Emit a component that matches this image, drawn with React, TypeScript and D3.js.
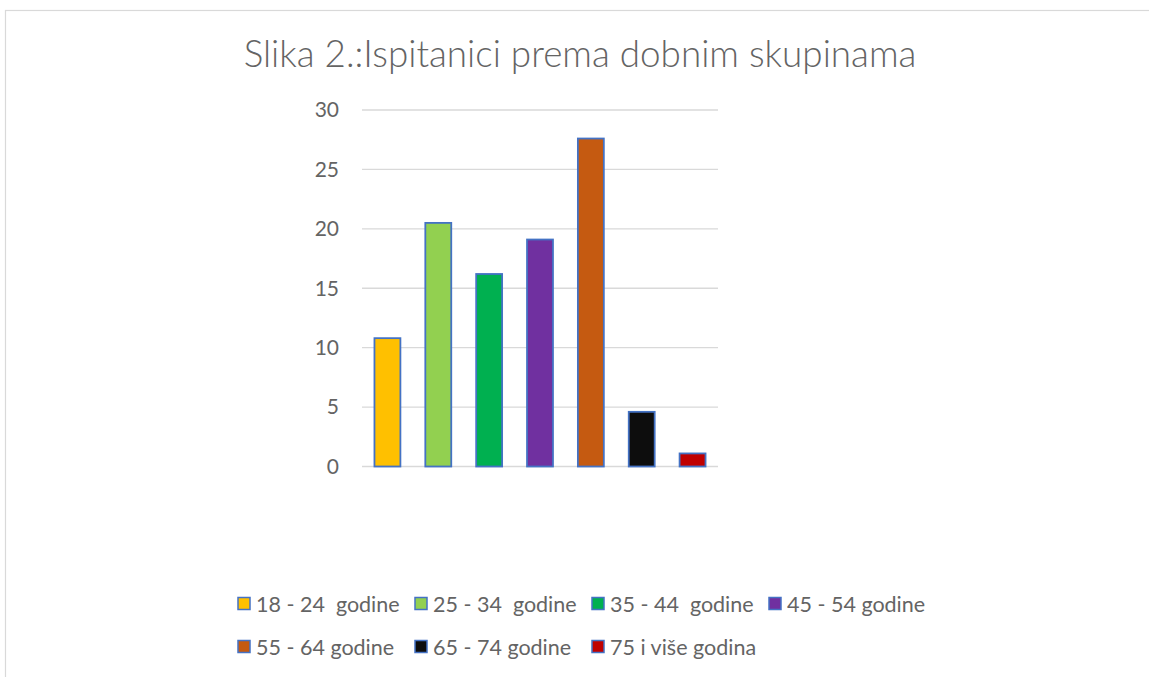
import React, { useEffect, useRef } from 'react';
import * as d3 from 'd3';

const categories = [
  '18 - 24  godine',
  '25 - 34  godine',
  '35 - 44  godine',
  '45 - 54 godine',
  '55 - 64 godine',
  '65 - 74 godine',
  '75 i više godina',
];
const values = [10.8, 20.5, 16.2, 19.1, 27.6, 4.6, 1.1];
const colors = ['#FFC000', '#92D050', '#00B050', '#7030A0', '#C55A11', '#0D0D0D', '#C00000'];
const yTicks = [0, 5, 10, 15, 20, 25, 30];
const title = 'Slika 2.:Ispitanici prema dobnim skupinama';

const FONT = 'Lato, "Open Sans", sans-serif';
const TEXT = '#646464';

const App = () => {
  const svgRef = useRef<SVGSVGElement>(null);

  useEffect(() => {
    const svg = d3.select(svgRef.current);
    svg.selectAll('*').remove();

    const width = 1149;
    const height = 677;

    svg.attr('width', width).attr('height', height);

    // chart frame (right/bottom edges fall outside the picture)
    svg.append('rect')
      .attr('x', 5.5).attr('y', 10.5)
      .attr('width', 1200).attr('height', 700)
      .attr('fill', '#fff')
      .attr('stroke', '#D9D9D9')
      .attr('stroke-width', 1.2);

    // title: sized so it spans roughly 244..917 like the original
    const titleText = svg.append('text')
      .attr('x', 580)
      .attr('y', 67)
      .attr('text-anchor', 'middle')
      .style('font-family', FONT)
      .style('font-weight', 300)
      .style('font-size', '100px')
      .style('fill', TEXT)
      .text(title);
    const node = titleText.node() as SVGTextElement;
    const w100 = node.getComputedTextLength();
    const fs = w100 > 0 ? Math.min(40, (673 / w100) * 100) : 34;
    titleText.style('font-size', `${fs}px`);

    const x = d3.scaleBand<string>()
      .domain(categories)
      .range([362, 718])
      .paddingInner(0.49)
      .paddingOuter(0.245);

    const y = d3.scaleLinear().domain([0, 30]).range([466.5, 110]);

    // gridlines
    svg.append('g')
      .selectAll('line')
      .data(yTicks)
      .enter()
      .append('line')
      .attr('x1', 362).attr('x2', 718)
      .attr('y1', d => y(d)).attr('y2', d => y(d))
      .attr('stroke', '#D9D9D9')
      .attr('stroke-width', 1.3);

    // tick labels
    svg.append('g')
      .selectAll('text')
      .data(yTicks)
      .enter()
      .append('text')
      .attr('x', 339)
      .attr('y', d => y(d))
      .attr('dy', '0.35em')
      .attr('text-anchor', 'end')
      .style('font-family', FONT)
      .style('font-size', '21px')
      .style('fill', TEXT)
      .text(d => d);

    // bars
    svg.append('g')
      .selectAll('rect')
      .data(values)
      .enter()
      .append('rect')
      .attr('x', (d, i) => x(categories[i]) as number)
      .attr('y', d => y(d))
      .attr('width', x.bandwidth())
      .attr('height', d => y(0) - y(d))
      .attr('fill', (d, i) => colors[i])
      .attr('stroke', '#4472C4')
      .attr('stroke-width', 1.8);

    // legend: 4 columns, wraps to a second row
    const legend = svg.append('g');
    const items = legend.selectAll('g')
      .data(categories)
      .enter()
      .append('g')
      .attr('transform', (d, i) => `translate(${238 + (i % 4) * 177}, ${604 + Math.floor(i / 4) * 43})`);

    items.append('rect')
      .attr('x', 0).attr('y', -6.5)
      .attr('width', 12).attr('height', 12)
      .attr('fill', (d, i) => colors[i])
      .attr('stroke', '#4472C4')
      .attr('stroke-width', 1.5);

    items.append('text')
      .attr('x', 18)
      .attr('y', 0)
      .attr('dy', '0.35em')
      .style('font-family', FONT)
      .style('font-size', '21.5px')
      .style('fill', TEXT)
      .style('white-space', 'pre')
      .text(d => d);
  }, []);

  return <svg ref={svgRef} style={{ position: 'absolute', left: 0, top: 0 }}></svg>;
};

export default App;
